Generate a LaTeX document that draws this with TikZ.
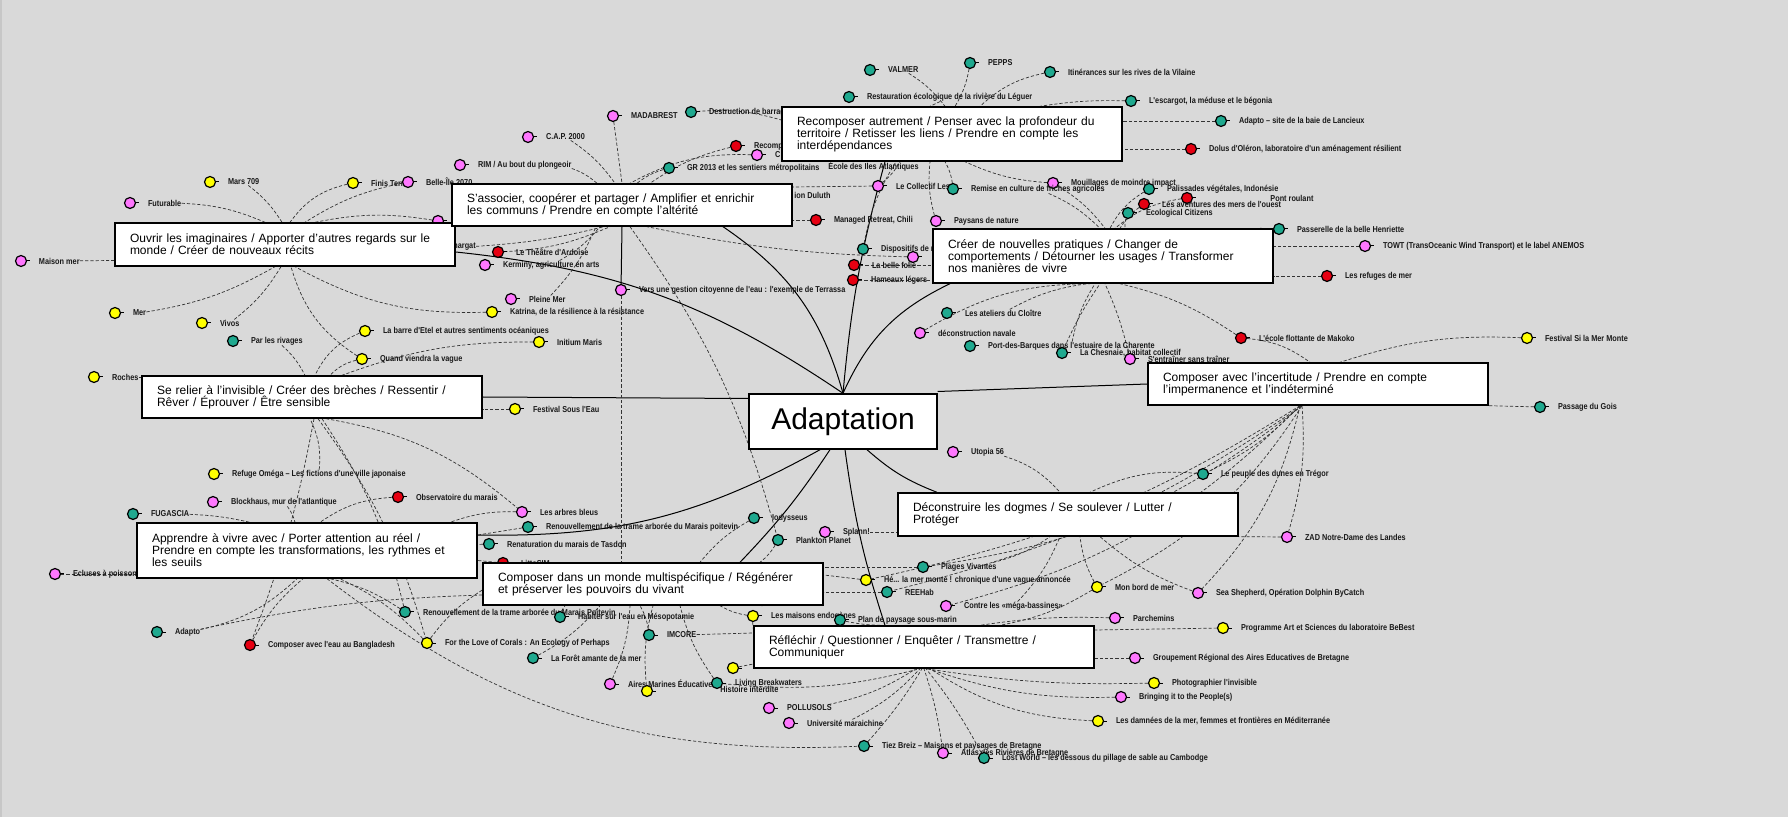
\documentclass[tikz,border=0pt]{standalone}
\usepackage{fontspec}
\setmainfont{Liberation Sans}
\newfontfamily\lblfont[FakeStretch=0.85]{Liberation Sans}
\usepackage{tikz}
\usetikzlibrary{positioning,backgrounds}
\definecolor{canvas}{HTML}{D9D9D9}
\definecolor{dotpink}{HTML}{FF77FF}
\definecolor{dotyellow}{HTML}{FFFF00}
\definecolor{dotteal}{HTML}{1FA98F}
\definecolor{dotred}{HTML}{E60012}
\pgfdeclarelayer{bg}
\pgfdeclarelayer{edges}
\pgfsetlayers{bg,edges,main}
\tikzset{
  theme/.style={rectangle, draw=black, line width=0.7pt, fill=white, align=left,
    minimum width=170pt, text width=155pt, inner xsep=7.5pt, inner ysep=0pt,
    minimum height=#1, font=\fontsize{6}{6}\selectfont},
  theme/.default=21pt,
  hubbox/.style={rectangle, draw=black, line width=0.7pt, fill=white,
    minimum width=94pt, minimum height=27.5pt, inner sep=0pt,
    font=\fontsize{15}{15}\selectfont},
  dot/.style={circle, draw=black, line width=0.6pt, minimum size=5.5pt, inner sep=0pt},
  stub/.style={line width=0.5pt},
  lbl/.style={inner sep=0pt, text=black!90, font=\lblfont\fontsize{4.3}{5}\selectfont\bfseries},
  link/.style={dash pattern=on 1.6pt off 1pt, line width=0.35pt, draw=black!80},
  spoke/.style={line width=0.5pt, draw=black},
}
\newcommand{\spot}[5]{%
  \node[dot, fill=#2] (#1) at (#3,-#4) {};
  \draw[stub] (#1.east) -- ++(3,0);
  \node[lbl, right=5.75pt of #1] (#1T) {#5};
}

\begin{document}
\begin{tikzpicture}[x=0.5pt, y=0.5pt]
  \useasboundingbox (0,0) rectangle (1788,-817);
  \begin{pgfonlayer}{bg}
    \fill[canvas] (0,0) rectangle (1788,-817);
    \fill[black!22] (0,0) rectangle (2,-817);
  \end{pgfonlayer}

  % projects
  \spot{mars}{dotyellow}{210}{182}{Mars 709}
  \spot{futur}{dotpink}{130}{203}{Futurable}
  \spot{finis}{dotyellow}{353}{183}{Finis Terrae}
  \spot{belle}{dotpink}{408}{182}{Belle-Île 2070}
  \spot{maisonmer}{dotpink}{21}{261}{Maison mer}
  \spot{mer}{dotyellow}{115}{313}{Mer}
  \spot{vivos}{dotyellow}{202}{323}{Vivos}
  \spot{hidpk}{dotpink}{438}{221}{}
  \spot{katrina}{dotyellow}{492}{312}{Katrina, de la résilience à la résistance}
  \spot{rivages}{dotteal}{233}{341}{Par les rivages}
  \spot{etel}{dotyellow}{365}{331}{La barre d'Etel et autres sentiments océaniques}
  \spot{vague}{dotyellow}{362}{359}{Quand viendra la vague}
  \spot{roches}{dotyellow}{94}{377}{Roches}
  \spot{initium}{dotyellow}{539}{342}{Initium Maris}
  \spot{sousleau}{dotyellow}{515}{409}{Festival Sous l'Eau}
  \spot{omega}{dotyellow}{214}{474}{Refuge Oméga – Les fictions d'une ville japonaise}
  \spot{blockhaus}{dotpink}{213}{502}{Blockhaus, mur de l'atlantique}
  \spot{fugascia}{dotteal}{133}{514}{FUGASCIA}
  \spot{observ}{dotred}{398}{497}{Observatoire du marais}
  \spot{ecluses}{dotpink}{55}{574}{Ecluses à poissons}
  \spot{adapto}{dotteal}{157}{632}{Adapto}
  \spot{bangla}{dotred}{250}{645}{Composer avec l'eau au Bangladesh}
  \spot{renouvB}{dotteal}{405}{612}{Renouvellement de la trame arborée du Marais Poitevin}
  \spot{corals}{dotyellow}{427}{643}{For the Love of Corals : An Ecology of Perhaps}
  \spot{arbres}{dotpink}{522}{512}{Les arbres bleus}
  \spot{renouvA}{dotteal}{528}{527}{Renouvellement de la trame arborée du Marais poitevin}
  \spot{tasdon}{dotteal}{489}{544}{Renaturation du marais de Tasdon}
  \spot{littosim}{dotred}{503}{563}{LittoSIM}
  \spot{madabrest}{dotpink}{613}{116}{MADABREST}
  \spot{destruct}{dotteal}{691}{112}{Destruction de barrages}
  \spot{cap}{dotpink}{528}{137}{C.A.P. 2000}
  \spot{rim}{dotpink}{460}{165}{RIM / Au bout du plongeoir}
  \spot{recompx}{dotred}{736}{146}{Recomposer}
  \spot{cpk}{dotpink}{757}{155}{C}
  \spot{gr}{dotteal}{669}{168}{GR 2013 et les sentiers métropolitains}
  \node[lbl, anchor=west] (ecole) at (828,-167) {École des Iles Atlantiques};
  \node[lbl, anchor=west] (duluth) at (794,-195) {ion Duluth};
  \node[lbl, anchor=west] (nargat) at (453,-247) {nargat};
  \spot{collectif}{dotpink}{878}{186}{Le Collectif Les}
  \spot{managed}{dotred}{816}{220}{Managed Retreat, Chili}
  \spot{dispo}{dotteal}{863}{249}{Dispositifs de r}
  \spot{theatre}{dotred}{498}{252}{Le Théâtre d'Ardoise}
  \spot{kerminy}{dotpink}{485}{265}{Kerminy, agriculture en arts}
  \spot{pleine}{dotpink}{511}{299}{Pleine Mer}
  \spot{terrassa}{dotpink}{621}{290}{Vers une gestion citoyenne de l'eau : l'exemple de Terrassa}
  \spot{valmer}{dotteal}{870}{70}{VALMER}
  \spot{pepps}{dotteal}{970}{63}{PEPPS}
  \spot{itin}{dotteal}{1050}{72}{Itinérances sur les rives de la Vilaine}
  \spot{leguer}{dotteal}{849}{97}{Restauration écologique de la rivière du Léguer}
  \spot{escargot}{dotteal}{1131}{101}{L'escargot, la méduse et le bégonia}
  \spot{lancieux}{dotteal}{1221}{121}{Adapto – site de la baie de Lancieux}
  \spot{dolus}{dotred}{1191}{149}{Dolus d'Oléron, laboratoire d'un aménagement résilient}
  \spot{mouill}{dotpink}{1053}{183}{Mouillages de moindre impact}
  \spot{remise}{dotteal}{953}{189}{Remise en culture de friches agricoles}
  \spot{pont}{dotred}{1187}{198}{}
  \node[lbl, anchor=west] (pontT2) at (1270,-198) {Pont roulant};
  \spot{palis}{dotteal}{1149}{189}{Palissades végétales, Indonésie}
  \spot{aventures}{dotred}{1144}{204}{Les aventures des mers de l'ouest}
  \spot{ecocit}{dotteal}{1128}{213}{Ecological Citizens}
  \spot{passerelle}{dotteal}{1279}{229}{Passerelle de la belle Henriette}
  \spot{towt}{dotpink}{1365}{246}{TOWT (TransOceanic Wind Transport) et le label ANEMOS}
  \spot{refuges}{dotred}{1327}{276}{Les refuges de mer}
  \spot{paysans}{dotpink}{936}{221}{Paysans de nature}
  \spot{dispopk}{dotpink}{913}{257}{}
  \spot{bellefolie}{dotred}{854}{265}{La belle folie}
  \spot{hameaux}{dotred}{853}{280}{Hameaux légers}
  \spot{cloitre}{dotteal}{947}{313}{Les ateliers du Cloître}
  \spot{navale}{dotpink}{920}{333}{déconstruction navale}
  \spot{barques}{dotteal}{970}{346}{Port-des-Barques dans l'estuaire de la Charente}
  \spot{chesnaie}{dotteal}{1062}{353}{La Chesnaie, habitat collectif}
  \spot{entrainer}{dotpink}{1130}{359}{S'entraîner sans traîner}
  \spot{makoko}{dotred}{1241}{338}{L'école flottante de Makoko}
  \spot{simermonte}{dotyellow}{1527}{338}{Festival Si la Mer Monte}
  \spot{gois}{dotteal}{1540}{407}{Passage du Gois}
  \spot{utopia}{dotpink}{953}{452}{Utopia 56}
  \spot{dunes}{dotteal}{1203}{474}{Le peuple des dunes en Trégor}
  \spot{zad}{dotpink}{1287}{537}{ZAD Notre-Dame des Landes}
  \spot{splann}{dotpink}{825}{532}{Splann!}
  \spot{iody}{dotteal}{754}{518}{Iodysseus}
  \spot{plankton}{dotteal}{778}{540}{Plankton Planet}
  \spot{plages}{dotteal}{923}{567}{Plages Vivantes}
  \spot{hela}{dotyellow}{866}{580}{Hé... la mer monte ! chronique d'une vague annoncée}
  \spot{reehab}{dotteal}{887}{592}{REEHab}
  \spot{megab}{dotpink}{946}{606}{Contre les «méga-bassines»}
  \spot{monbord}{dotyellow}{1097}{587}{Mon bord de mer}
  \spot{seashep}{dotpink}{1198}{593}{Sea Shepherd, Opération Dolphin ByCatch}
  \spot{habiter}{dotteal}{560}{617}{Habiter sur l'eau en Mésopotamie}
  \spot{imcore}{dotteal}{649}{635}{IMCORE}
  \spot{maisons}{dotyellow}{753}{616}{Les maisons endogènes}
  \spot{pkrs}{dotpink}{762}{600}{}
  \spot{foret}{dotteal}{533}{658}{La Forêt amante de la mer}
  \spot{ywhid}{dotyellow}{647}{691}{}
  \spot{aires}{dotpink}{610}{684}{Aires Marines Éducatives}
  \node[lbl, anchor=west] (histoire) at (720,-689) {Histoire interdite};
  \spot{living}{dotteal}{717}{683}{Living Breakwaters}
  \spot{ywhid2}{dotyellow}{733}{668}{}
  \spot{plan}{dotteal}{840}{620}{Plan de paysage sous-marin}
  \spot{parchemins}{dotpink}{1115}{618}{Parchemins}
  \spot{bebest}{dotyellow}{1223}{628}{Programme Art et Sciences du laboratoire BeBest}
  \spot{grae}{dotpink}{1135}{658}{Groupement Régional des Aires Educatives de Bretagne}
  \spot{photo}{dotyellow}{1154}{683}{Photographier l'invisible}
  \spot{bringing}{dotpink}{1121}{697}{Bringing it to the People(s)}
  \spot{damnees}{dotyellow}{1098}{721}{Les damnées de la mer, femmes et frontières en Méditerranée}
  \spot{pollusols}{dotpink}{769}{708}{POLLUSOLS}
  \spot{univ}{dotpink}{789}{723}{Université maraichine}
  \spot{tiez}{dotteal}{864}{746}{Tiez Breiz – Maisons et paysages de Bretagne}
  \spot{atlas}{dotpink}{943}{753}{Atlas des Rivières de Bretagne}
  \spot{lostworld}{dotteal}{984}{758}{Lost World – les dessous du pillage de sable au Cambodge}

  % themes
  \node[theme=21.5pt] (ouvrir) at (285,-244.5) {Ouvrir les imaginaires / Apporter d'autres regards sur le\\monde / Créer de nouveaux récits};
  \node[theme] (assoc) at (622,-205) {S'associer, coopérer et partager / Amplifier et enrichir\\les communs / Prendre en compte l'altérité};
  \node[theme=27pt] (recomp) at (952,-134) {Recomposer autrement / Penser avec la profondeur du\\territoire / Retisser les liens / Prendre en compte les\\interdépendances};
  \node[theme=27pt] (creer) at (1103,-256) {Créer de nouvelles pratiques / Changer de\\comportements / Détourner les usages / Transformer\\nos manières de vivre};
  \node[theme] (relier) at (312,-397) {Se relier à l'invisible / Créer des brèches / Ressentir /\\Rêver / Éprouver / Être sensible};
  \node[theme=27.5pt] (apprendre) at (307,-550.5) {Apprendre à vivre avec / Porter attention au réel /\\Prendre en compte les transformations, les rythmes et\\les seuils};
  \node[theme] (multi) at (653,-584) {Composer dans un monde multispécifique / Régénérer\\et préserver les pouvoirs du vivant};
  \node[theme] (reflechir) at (924,-647) {Réfléchir / Questionner / Enquêter / Transmettre /\\Communiquer};
  \node[theme=21.5pt] (deconst) at (1068,-514.5) {Déconstruire les dogmes / Se soulever / Lutter /\\Protéger};
  \node[theme] (incert) at (1318,-384) {Composer avec l'incertitude / Prendre en compte\\l'impermanence et l'indéterminé};
  \node[hubbox] (adapt) at (843,-421.5) {Adaptation};

  \begin{pgfonlayer}{edges}
    % adaptation to themes
    \draw[spoke] (adapt.north) to[bend right=14] ([yshift=-3.75pt]ouvrir.east);
    \draw[spoke] (adapt.north) to[bend right=20] ([xshift=50.5pt]assoc.south);
    \draw[spoke] (adapt.north) to[bend left=5] ([xshift=-33.5pt]recomp.south);
    \draw[spoke] (adapt.north) to[bend left=20] ([xshift=-76.5pt]creer.south);
    \draw[spoke] (relier.east) -- ([yshift=11.5pt]adapt.west);
    \draw[spoke] ([yshift=15pt]adapt.east) -- (incert.west);
    \draw[spoke] ([xshift=12pt]adapt.south) to[bend right=10] ([xshift=-65.5pt]deconst.north);
    \draw[spoke] ([xshift=-11.5pt]adapt.south) to[bend left=15] ([yshift=7.75pt]apprendre.east);
    \draw[spoke] ([xshift=-6.5pt]adapt.south) to[bend left=5] ([xshift=43.5pt]multi.north);
    \draw[spoke] ([xshift=1pt]adapt.south) to[bend right=5] ([xshift=-19.5pt]reflechir.north);
    \draw[spoke] (assoc.south) -- (terrassa);

    % ouvrir
    \draw[link] (marsT) to[bend left=10] ([xshift=-1.5pt]ouvrir.north);
    \draw[link] (futurT) to[bend left=10] ([xshift=-10pt]ouvrir.north);
    \draw[link] (finis) to[bend right=20] ([xshift=2.5pt]ouvrir.north);
    \draw[link] (belle) to[bend right=10] ([xshift=10pt]ouvrir.north);
    \draw[link] (hidpk) to[bend right=10] ([xshift=15pt]ouvrir.north);
    \draw[link] (maisonmerT) -- ([yshift=-8pt]ouvrir.west);
    \draw[link] (merT) to[bend right=10] ([xshift=-5pt]ouvrir.south);
    \draw[link] (vivosT) to[bend right=10] ([xshift=-2pt]ouvrir.south);
    \draw[link] (katrina) to[bend left=15] ([xshift=5pt]ouvrir.south);
    \draw[link] (vague) to[bend left=20] ([xshift=3pt]ouvrir.south);

    % relier
    \draw[link] (rivagesT) to[bend left=10] ([xshift=-3.5pt]relier.north);
    \draw[link] (etel) to[bend right=20] ([xshift=1.5pt]relier.north);
    \draw[link] (vague) to[bend right=15] ([xshift=9pt]relier.north);
    \draw[link] (initium) to[bend right=10] ([xshift=15pt]relier.north);
    \draw[link] (rochesT) -- ([yshift=10pt]relier.west);
    \draw[link] (sousleau) -- ([yshift=-6pt]relier.east);
    \draw[link] (omegaT) to[bend right=15] ([xshift=-1pt]relier.south);
    \draw[link] ([xshift=1pt]relier.south) to[bend left=5] (bangla);
    \draw[link] ([xshift=3pt]relier.south) to[bend left=10] (corals);
    \draw[link] ([xshift=5pt]relier.south) to[bend left=10] (renouvB);
    \draw[link] ([xshift=7pt]relier.south) to[bend left=15] (arbres);

    % apprendre
    \draw[link] (blockhausT) to[bend left=10] ([xshift=-6pt]apprendre.north);
    \draw[link] (fugasciaT) to[bend left=5] ([xshift=-28.5pt]apprendre.north);
    \draw[link] (observ) to[bend right=15] ([xshift=6.5pt]apprendre.north);
    \draw[link] (ecluses) -- ([yshift=-11.75pt]apprendre.west);
    \draw[link] (adaptoT) to[bend right=15] ([xshift=-5pt]apprendre.south);
    \draw[link] (bangla) to[bend left=10] ([xshift=-2pt]apprendre.south);
    \draw[link] (renouvB) to[bend right=10] ([xshift=11.5pt]apprendre.south);
    \draw[link] (corals) to[bend right=10] ([xshift=16.5pt]apprendre.south);
    \draw[link] (arbres) to[bend right=10] ([xshift=71.5pt]apprendre.north);
    \draw[link] (renouvA) -- ([yshift=7.75pt]apprendre.east);
    \draw[link] (tasdon) -- ([yshift=3pt]apprendre.east);
    \draw[link] (littosim) -- ([yshift=-5pt]apprendre.east);
    \draw[link] ([xshift=10pt]apprendre.south) to[bend right=20] (tiez);

    % associer
    \draw[link] (madabrest) -- (assoc.north);
    \draw[link] (capT) to[bend left=10] ([xshift=-3.5pt]assoc.north);
    \draw[link] (rimT) to[bend left=10] ([xshift=-12.5pt]assoc.north);
    \draw[link] (gr) to[bend right=10] ([xshift=7.5pt]assoc.north);
    \draw[link] (cpk) to[bend right=15] ([xshift=4pt]assoc.north);
    \draw[link] (recompx) to[bend right=10] ([xshift=14pt]assoc.north);
    \draw[link] (collectif) -- ([yshift=9pt]assoc.east);
    \draw[link] (managed) -- ([yshift=-7.5pt]assoc.east);
    \draw[link] (dispopk) to[bend left=5] ([xshift=12.5pt]assoc.south);
    \draw[link] (theatre) to[bend right=10] ([xshift=-6pt]assoc.south);
    \draw[link] (kerminyT) to[bend right=10] ([xshift=-11pt]assoc.south);
    \draw[link] (pleineT) to[bend right=10] ([xshift=-13pt]assoc.south);
    \draw[link] (nargat) to[bend right=5] ([xshift=-9pt]assoc.south);
    \draw[link] (terrassa) -- ([xshift=-16pt]multi.north);
    \draw[link] ([xshift=4pt]assoc.south) to[bend left=10] (plankton);

    % recomposer
    \draw[link] (valmerT) to[bend left=10] ([xshift=-3.5pt]recomp.north);
    \draw[link] (pepps) to[bend left=10] ([xshift=1.5pt]recomp.north);
    \draw[link] (itin) to[bend right=15] ([xshift=14pt]recomp.north);
    \draw[link] (leguerT) -- ([xshift=-11pt]recomp.north);
    \draw[link] (escargot) to[bend right=5] ([xshift=44pt]recomp.north);
    \draw[link] (lancieux) -- ([yshift=6.5pt]recomp.east);
    \draw[link] (dolus) -- ([yshift=-7.5pt]recomp.east);
    \draw[link] (remise) to[bend right=10] ([xshift=-3.5pt]recomp.south);
    \draw[link] (mouill) to[bend left=10] ([xshift=6.5pt]recomp.south);
    \draw[link] (destruct) to[bend left=10] ([yshift=7pt]recomp.west);
    \draw[link] (collectif) to[bend right=10] ([xshift=-26pt]recomp.south);
    \draw[link] (paysans) to[bend left=10] ([xshift=-11pt]recomp.south);
    \draw[link] (dispo) to[bend left=10] ([xshift=-28pt]recomp.south);

    % creer
    \draw[link] (palis) to[bend right=15] ([xshift=3.5pt]creer.north);
    \draw[link] (pont) to[bend right=15] ([xshift=6pt]creer.north);
    \draw[link] (aventures) to[bend right=10] ([xshift=8.5pt]creer.north);
    \draw[link] (ecocit) to[bend right=10] ([xshift=11pt]creer.north);
    \draw[link] (remiseT) to[bend left=10] ([xshift=-1.5pt]creer.north);
    \draw[link] (mouill) to[bend left=10] ([xshift=1pt]creer.north);
    \draw[link] (passerelle) -- ([xshift=78.5pt]creer.north);
    \draw[link] (towt) -- ([yshift=5pt]creer.east);
    \draw[link] (refuges) -- ([yshift=-10pt]creer.east);
    \draw[link] (bellefolie) -- ([yshift=-4.5pt]creer.west);
    \draw[link] (hameaux) -- ([yshift=-12pt]creer.west);
    \draw[link] (cloitreT) to[bend left=10] ([xshift=-8pt]creer.south);
    \draw[link] (navale) to[bend left=15] ([xshift=-6.5pt]creer.south);
    \draw[link] (barquesT) to[bend left=10] ([xshift=-4pt]creer.south);
    \draw[link] (chesnaie) to[bend left=5] ([xshift=-1.5pt]creer.south);
    \draw[link] (entrainer) to[bend right=5] ([xshift=1pt]creer.south);
    \draw[link] (makoko) to[bend right=10] ([xshift=8.5pt]creer.south);

    % incertitude
    \draw[link] (makoko) to[bend left=15] ([xshift=-4pt]incert.north);
    \draw[link] (simermonte) to[bend right=10] ([xshift=11pt]incert.north);
    \draw[link] (gois) -- (incert.south east);
    \draw[link] ([xshift=-9pt]incert.south) to[bend left=10] (dunes);
    \draw[link] ([xshift=-8pt]incert.south) to[bend left=10] (zad);
    \draw[link] ([xshift=-9pt]incert.south) to[bend left=15] (seashep);
    \draw[link] ([xshift=-8pt]incert.south) to[bend left=15] (monbord);
    \draw[link] ([xshift=-9pt]incert.south) to[bend left=15] (megab);
    \draw[link] ([xshift=-8pt]incert.south) to[bend left=15] (plages);
    \draw[link] ([xshift=-9pt]incert.south) to[bend left=10] (hela);
    \draw[link] ([xshift=-8pt]incert.south) to[bend left=10] (reehab);

    % deconstruire
    \draw[link] (utopiaT) to[bend left=15] ([xshift=-4pt]deconst.north);
    \draw[link] (dunes) to[bend right=15] ([xshift=11pt]deconst.north);
    \draw[link] (zad) -- (deconst.south east);
    \draw[link] (splannT) -- ([yshift=-8.75pt]deconst.west);
    \draw[link] (megabT) to[bend right=10] ([xshift=-4pt]deconst.south);
    \draw[link] (monbord) to[bend left=10] ([xshift=6pt]deconst.south);
    \draw[link] (seashep) to[bend left=10] ([xshift=16pt]deconst.south);
    \draw[link] (plagesT) to[bend right=10] ([xshift=-9pt]deconst.south);

    % multispecifique
    \draw[link] (iody) to[bend right=10] ([xshift=23.5pt]multi.north);
    \draw[link] (plankton) to[bend left=10] ([xshift=53.5pt]multi.north);
    \draw[link] (plages) -- ([yshift=8.5pt]multi.east);
    \draw[link] (hela) -- ([yshift=4.5pt]multi.east);
    \draw[link] (reehab) -- ([yshift=-4pt]multi.east);
    \draw[link] (habiter) to[bend left=10] ([xshift=-44pt]multi.south);
    \draw[link] (imcore) to[bend right=10] ([xshift=-6.5pt]multi.south);
    \draw[link] (maisons) to[bend left=10] ([xshift=33.5pt]multi.south);
    \draw[link] (foret) to[bend right=10] ([xshift=-26.5pt]multi.south);
    \draw[link] (aires) to[bend right=10] ([xshift=-11.5pt]multi.south);
    \draw[link] (living) to[bend left=10] ([xshift=13.5pt]multi.south);
    \draw[link] (ywhid) to[bend left=10] (multi.south);
    \draw[link] (corals) to[bend left=10] ([yshift=-3pt]multi.west);
    \draw[link] (adaptoT) to[bend left=5] ([yshift=-5.5pt]multi.west);

    % reflechir
    \draw[link] (plan) to[bend right=5] ([xshift=-22pt]reflechir.north);
    \draw[link] (parchemins) to[bend right=5] ([xshift=28pt]reflechir.north);
    \draw[link] (monbord) to[bend left=10] ([xshift=38pt]reflechir.north);
    \draw[link] (bebest) -- ([yshift=8.5pt]reflechir.east);
    \draw[link] (grae) -- ([yshift=-5.5pt]reflechir.east);
    \draw[link] (imcoreT) -- ([yshift=7pt]reflechir.west);
    \draw[link] (maisons) to[bend right=5] ([yshift=9pt]reflechir.west);
    \draw[link] (ywhid2) -- ([yshift=-8.5pt]reflechir.west);
    \draw[link] (living) to[bend right=10] ([xshift=-2pt]reflechir.south);
    \draw[link] (photo) to[bend left=5] ([xshift=1pt]reflechir.south);
    \draw[link] (bringing) to[bend left=10] ([xshift=2pt]reflechir.south);
    \draw[link] (damnees) to[bend left=15] ([xshift=3pt]reflechir.south);
    \draw[link] (pollusolsT) to[bend right=10] ([xshift=-4pt]reflechir.south);
    \draw[link] (univT) to[bend right=10] ([xshift=-2pt]reflechir.south);
    \draw[link] (tiez) to[bend right=5] ([xshift=-1pt]reflechir.south);
    \draw[link] (atlas) to[bend right=5] (reflechir.south);
    \draw[link] (lostworld) to[bend right=5] ([xshift=1pt]reflechir.south);
  \end{pgfonlayer}
\end{tikzpicture}
\end{document}
